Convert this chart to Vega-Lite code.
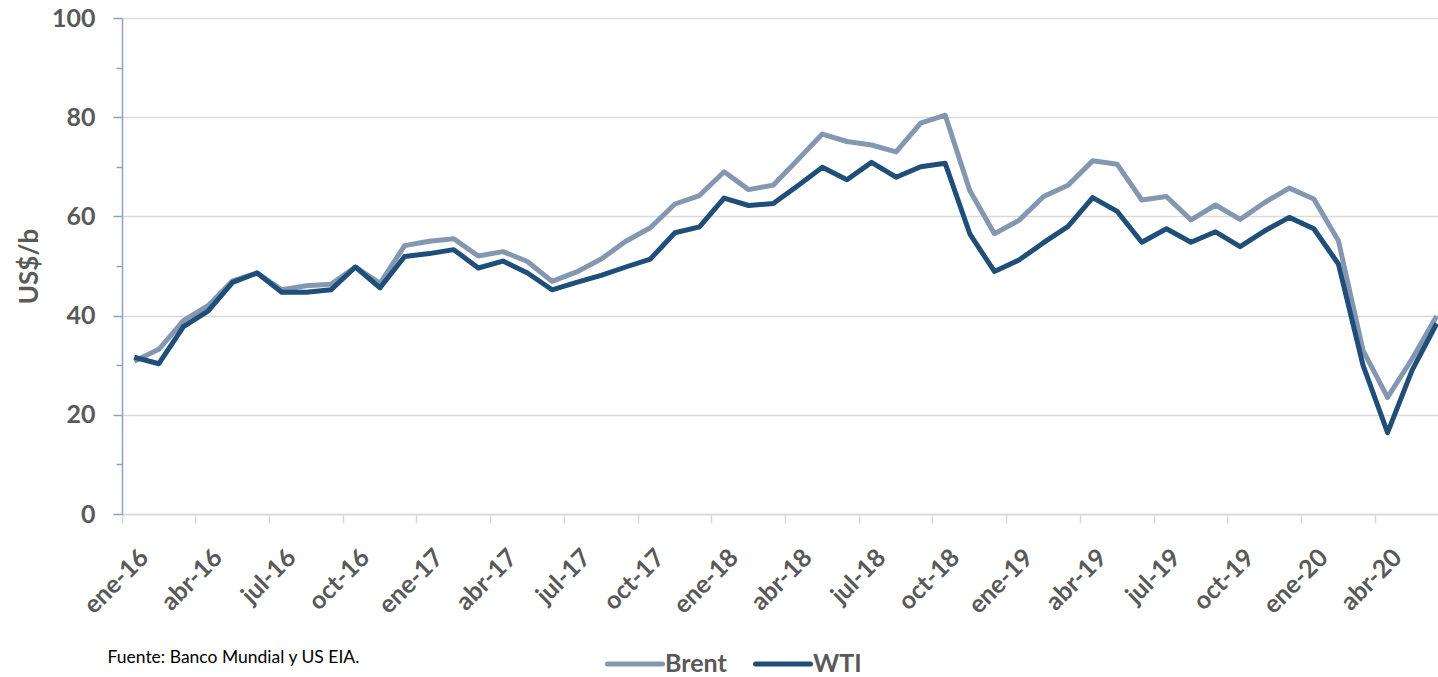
{
  "$schema": "https://vega.github.io/schema/vega-lite/v6.json",
  "width": 1316,
  "height": 496,
  "autosize": "none",
  "padding": {"left": 122, "top": 18, "right": 0, "bottom": 163},
  "background": "white",
  "config": {
    "font": "Lato",
    "view": {"stroke": null}
  },
  "data": {
    "values": [
      {"mes": "ene-16", "serie": "Brent", "precio": 30.8},
      {"mes": "feb-16", "serie": "Brent", "precio": 33.2},
      {"mes": "mar-16", "serie": "Brent", "precio": 39.0},
      {"mes": "abr-16", "serie": "Brent", "precio": 42.0},
      {"mes": "may-16", "serie": "Brent", "precio": 47.0},
      {"mes": "jun-16", "serie": "Brent", "precio": 48.6},
      {"mes": "jul-16", "serie": "Brent", "precio": 45.2},
      {"mes": "ago-16", "serie": "Brent", "precio": 46.0},
      {"mes": "sep-16", "serie": "Brent", "precio": 46.3},
      {"mes": "oct-16", "serie": "Brent", "precio": 49.8},
      {"mes": "nov-16", "serie": "Brent", "precio": 46.5},
      {"mes": "dic-16", "serie": "Brent", "precio": 54.1},
      {"mes": "ene-17", "serie": "Brent", "precio": 55.0},
      {"mes": "feb-17", "serie": "Brent", "precio": 55.5},
      {"mes": "mar-17", "serie": "Brent", "precio": 52.0},
      {"mes": "abr-17", "serie": "Brent", "precio": 52.9},
      {"mes": "may-17", "serie": "Brent", "precio": 50.9},
      {"mes": "jun-17", "serie": "Brent", "precio": 46.9},
      {"mes": "jul-17", "serie": "Brent", "precio": 48.8},
      {"mes": "ago-17", "serie": "Brent", "precio": 51.4},
      {"mes": "sep-17", "serie": "Brent", "precio": 55.0},
      {"mes": "oct-17", "serie": "Brent", "precio": 57.7},
      {"mes": "nov-17", "serie": "Brent", "precio": 62.5},
      {"mes": "dic-17", "serie": "Brent", "precio": 64.2},
      {"mes": "ene-18", "serie": "Brent", "precio": 69.0},
      {"mes": "feb-18", "serie": "Brent", "precio": 65.4},
      {"mes": "mar-18", "serie": "Brent", "precio": 66.3},
      {"mes": "abr-18", "serie": "Brent", "precio": 71.4},
      {"mes": "may-18", "serie": "Brent", "precio": 76.6},
      {"mes": "jun-18", "serie": "Brent", "precio": 75.1},
      {"mes": "jul-18", "serie": "Brent", "precio": 74.4},
      {"mes": "ago-18", "serie": "Brent", "precio": 73.0},
      {"mes": "sep-18", "serie": "Brent", "precio": 78.8},
      {"mes": "oct-18", "serie": "Brent", "precio": 80.4},
      {"mes": "nov-18", "serie": "Brent", "precio": 65.2},
      {"mes": "dic-18", "serie": "Brent", "precio": 56.5},
      {"mes": "ene-19", "serie": "Brent", "precio": 59.2},
      {"mes": "feb-19", "serie": "Brent", "precio": 64.0},
      {"mes": "mar-19", "serie": "Brent", "precio": 66.3},
      {"mes": "abr-19", "serie": "Brent", "precio": 71.2},
      {"mes": "may-19", "serie": "Brent", "precio": 70.5},
      {"mes": "jun-19", "serie": "Brent", "precio": 63.3},
      {"mes": "jul-19", "serie": "Brent", "precio": 64.0},
      {"mes": "ago-19", "serie": "Brent", "precio": 59.3},
      {"mes": "sep-19", "serie": "Brent", "precio": 62.3},
      {"mes": "oct-19", "serie": "Brent", "precio": 59.4},
      {"mes": "nov-19", "serie": "Brent", "precio": 62.8},
      {"mes": "dic-19", "serie": "Brent", "precio": 65.7},
      {"mes": "ene-20", "serie": "Brent", "precio": 63.5},
      {"mes": "feb-20", "serie": "Brent", "precio": 55.1},
      {"mes": "mar-20", "serie": "Brent", "precio": 33.0},
      {"mes": "abr-20", "serie": "Brent", "precio": 23.5},
      {"mes": "may-20", "serie": "Brent", "precio": 31.3},
      {"mes": "jun-20", "serie": "Brent", "precio": 39.9},
      {"mes": "ene-16", "serie": "WTI", "precio": 31.6},
      {"mes": "feb-16", "serie": "WTI", "precio": 30.3},
      {"mes": "mar-16", "serie": "WTI", "precio": 37.8},
      {"mes": "abr-16", "serie": "WTI", "precio": 40.9},
      {"mes": "may-16", "serie": "WTI", "precio": 46.7},
      {"mes": "jun-16", "serie": "WTI", "precio": 48.6},
      {"mes": "jul-16", "serie": "WTI", "precio": 44.7},
      {"mes": "ago-16", "serie": "WTI", "precio": 44.7},
      {"mes": "sep-16", "serie": "WTI", "precio": 45.2},
      {"mes": "oct-16", "serie": "WTI", "precio": 49.8},
      {"mes": "nov-16", "serie": "WTI", "precio": 45.6},
      {"mes": "dic-16", "serie": "WTI", "precio": 51.9},
      {"mes": "ene-17", "serie": "WTI", "precio": 52.5},
      {"mes": "feb-17", "serie": "WTI", "precio": 53.3},
      {"mes": "mar-17", "serie": "WTI", "precio": 49.6},
      {"mes": "abr-17", "serie": "WTI", "precio": 51.0},
      {"mes": "may-17", "serie": "WTI", "precio": 48.6},
      {"mes": "jun-17", "serie": "WTI", "precio": 45.2},
      {"mes": "jul-17", "serie": "WTI", "precio": 46.7},
      {"mes": "ago-17", "serie": "WTI", "precio": 48.1},
      {"mes": "sep-17", "serie": "WTI", "precio": 49.8},
      {"mes": "oct-17", "serie": "WTI", "precio": 51.4},
      {"mes": "nov-17", "serie": "WTI", "precio": 56.7},
      {"mes": "dic-17", "serie": "WTI", "precio": 57.9},
      {"mes": "ene-18", "serie": "WTI", "precio": 63.7},
      {"mes": "feb-18", "serie": "WTI", "precio": 62.2},
      {"mes": "mar-18", "serie": "WTI", "precio": 62.6},
      {"mes": "abr-18", "serie": "WTI", "precio": 66.2},
      {"mes": "may-18", "serie": "WTI", "precio": 69.9},
      {"mes": "jun-18", "serie": "WTI", "precio": 67.4},
      {"mes": "jul-18", "serie": "WTI", "precio": 70.9},
      {"mes": "ago-18", "serie": "WTI", "precio": 67.9},
      {"mes": "sep-18", "serie": "WTI", "precio": 70.0},
      {"mes": "oct-18", "serie": "WTI", "precio": 70.7},
      {"mes": "nov-18", "serie": "WTI", "precio": 56.5},
      {"mes": "dic-18", "serie": "WTI", "precio": 48.9},
      {"mes": "ene-19", "serie": "WTI", "precio": 51.2},
      {"mes": "feb-19", "serie": "WTI", "precio": 54.7},
      {"mes": "mar-19", "serie": "WTI", "precio": 58.0},
      {"mes": "abr-19", "serie": "WTI", "precio": 63.8},
      {"mes": "may-19", "serie": "WTI", "precio": 61.0},
      {"mes": "jun-19", "serie": "WTI", "precio": 54.8},
      {"mes": "jul-19", "serie": "WTI", "precio": 57.5},
      {"mes": "ago-19", "serie": "WTI", "precio": 54.8},
      {"mes": "sep-19", "serie": "WTI", "precio": 56.9},
      {"mes": "oct-19", "serie": "WTI", "precio": 53.9},
      {"mes": "nov-19", "serie": "WTI", "precio": 57.1},
      {"mes": "dic-19", "serie": "WTI", "precio": 59.8},
      {"mes": "ene-20", "serie": "WTI", "precio": 57.5},
      {"mes": "feb-20", "serie": "WTI", "precio": 50.4},
      {"mes": "mar-20", "serie": "WTI", "precio": 30.0},
      {"mes": "abr-20", "serie": "WTI", "precio": 16.4},
      {"mes": "may-20", "serie": "WTI", "precio": 29.0},
      {"mes": "jun-20", "serie": "WTI", "precio": 38.4}
    ]
  },
  "mark": {"type": "line", "strokeWidth": 5, "strokeJoin": "round"},
  "encoding": {
    "x": {
      "field": "mes",
      "type": "ordinal",
      "sort": null,
      "scale": {"type": "band", "range": [0, 1327], "paddingInner": 0, "paddingOuter": 0},
      "axis": {
        "values": ["ene-16", "abr-16", "jul-16", "oct-16", "ene-17", "abr-17", "jul-17", "oct-17", "ene-18", "abr-18", "jul-18", "oct-18", "ene-19", "abr-19", "jul-19", "oct-19", "ene-20", "abr-20"],
        "bandPosition": 0,
        "domainColor": "#D9D9D9",
        "domainWidth": 1.5,
        "tickColor": "#D9D9D9",
        "tickWidth": 1.5,
        "tickSize": 9,
        "grid": false,
        "labelAngle": -45,
        "labelAlign": "right",
        "labelBaseline": "middle",
        "labelOffset": 10,
        "labelPadding": 30,
        "labelFont": "Lato",
        "labelFontSize": 25,
        "labelFontWeight": "bold",
        "labelColor": "#595959",
        "labelOverlap": false,
        "title": "Fuente: Banco Mundial y US EIA.",
        "titleFont": "Lato",
        "titleFontSize": 17.5,
        "titleFontWeight": "normal",
        "titleColor": "#000000",
        "titleAnchor": "start",
        "titleAlign": "left",
        "titleBaseline": "alphabetic",
        "titleX": -15,
        "titleY": 148
      }
    },
    "y": {
      "field": "precio",
      "type": "quantitative",
      "scale": {"domain": [0, 100], "nice": false, "zero": true},
      "axis": {
        "values": [0, 10, 20, 30, 40, 50, 60, 70, 80, 90, 100],
        "labelExpr": "datum.value % 20 === 0 ? datum.label : ''",
        "tickSize": {"condition": {"test": "datum.value % 20 === 0", "value": 9}, "value": 6},
        "gridOpacity": {"condition": {"test": "datum.value % 20 === 0", "value": 1}, "value": 0},
        "gridColor": "#D9D9D9",
        "gridWidth": 1.5,
        "domainColor": "#8EA2C2",
        "domainWidth": 1.5,
        "tickColor": "#8EA2C2",
        "tickWidth": 1.5,
        "labelPadding": 18,
        "labelFont": "Lato",
        "labelFontSize": 25,
        "labelFontWeight": "bold",
        "labelColor": "#595959",
        "title": "US$/b",
        "titleFont": "Lato",
        "titleFontSize": 26,
        "titleFontWeight": "bold",
        "titleColor": "#595959",
        "titlePadding": 9
      }
    },
    "color": {
      "field": "serie",
      "type": "nominal",
      "scale": {"domain": ["Brent", "WTI"], "range": ["#8497B0", "#1F4E79"]},
      "legend": {
        "orient": "none",
        "legendX": 483,
        "legendY": 616,
        "direction": "horizontal",
        "title": null,
        "padding": 0,
        "symbolType": "stroke",
        "symbolSize": 3025,
        "symbolStrokeWidth": 5,
        "labelFont": "Lato",
        "labelFontSize": 25,
        "labelFontWeight": "bold",
        "labelColor": "#595959",
        "labelOffset": 0,
        "columnPadding": 18,
        "encode": {"symbols": {"update": {"strokeCap": {"value": "round"}}}}
      }
    }
  }
}
